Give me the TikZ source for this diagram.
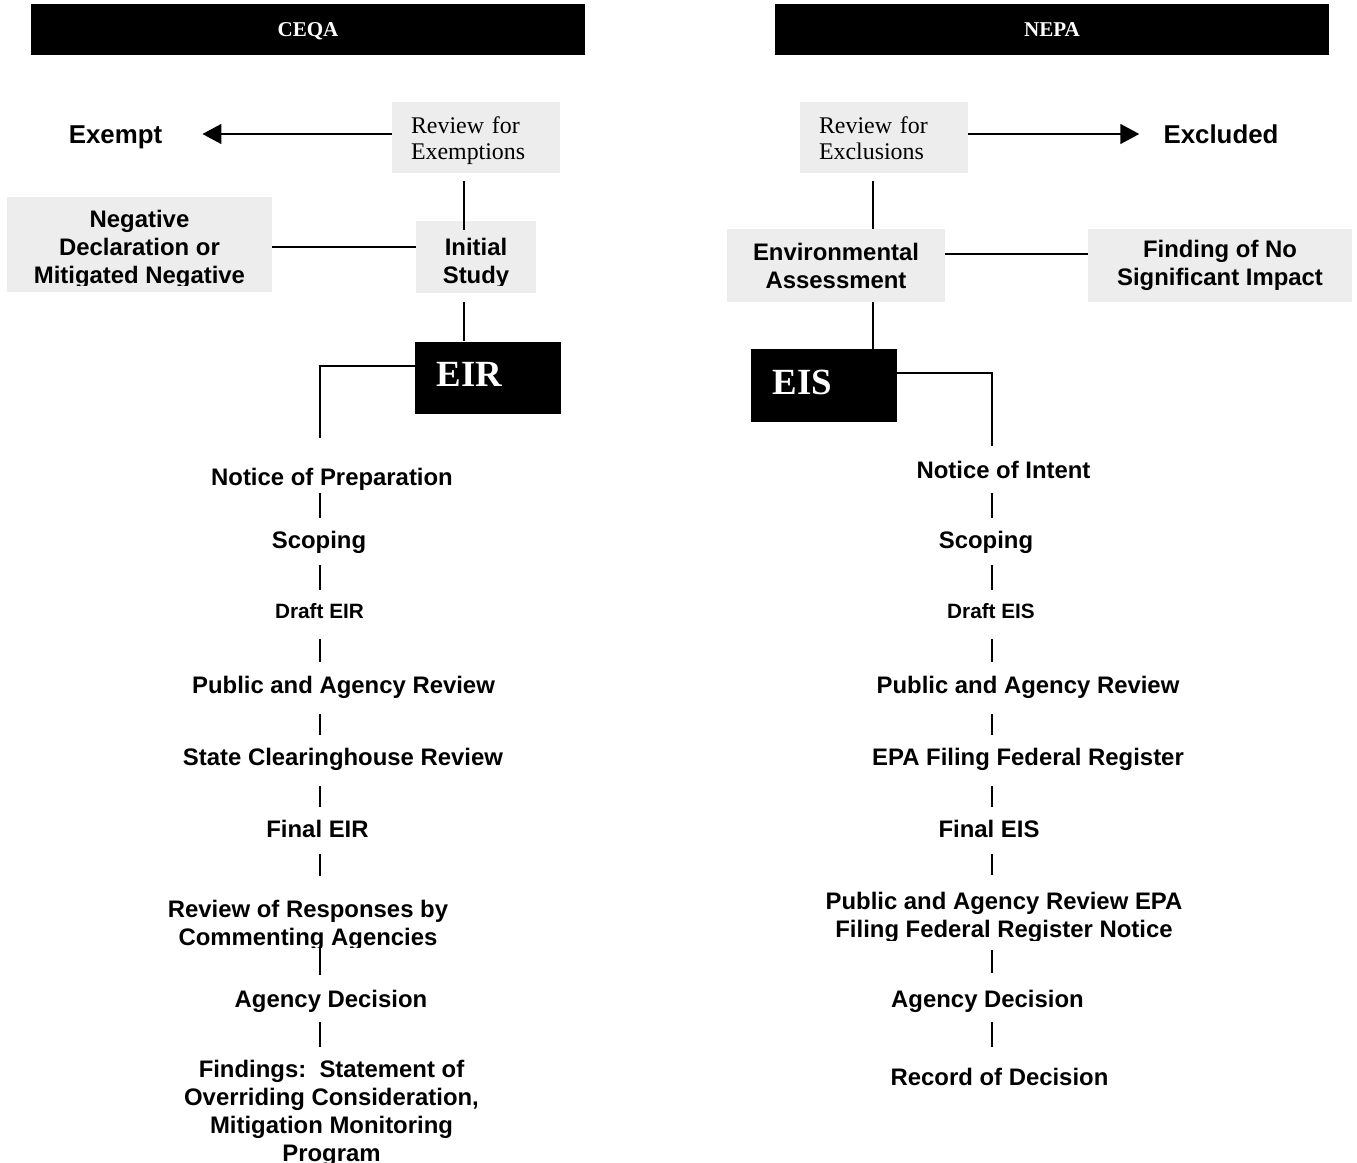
\documentclass[tikz,border=0pt]{standalone}
\usepackage{fontspec}
\setmainfont{Liberation Serif}
\setsansfont{Liberation Sans}
\usetikzlibrary{arrows.meta,positioning}

\definecolor{boxgray}{RGB}{237,237,237}

\begin{document}
\begin{tikzpicture}[
    x=0.02cm, y=-0.02cm,
    header/.style={rectangle, fill=black, minimum width=11.08cm, minimum height=1.02cm, inner sep=0pt, text=white, text height=7.9pt, text depth=0pt, font=\bfseries\fontsize{12}{14}\selectfont},
    graybox/.style={rectangle, fill=boxgray, inner sep=0pt},
    reviewbox/.style={graybox, minimum height=1.42cm, text width=2.6cm, inner xsep=0.38cm, inner ysep=0pt, text height=0.34cm, text depth=0.52cm, align=left, font=\fontsize{13.6}{15.3}\selectfont},
    docbox/.style={rectangle, fill=black, text=white, inner xsep=0.43cm, inner ysep=0pt, text width=2.06cm, text height=0.9cm, text depth=0.55cm, align=left, font=\bfseries\fontsize{21}{25}\selectfont},
    outcome/.style={inner sep=0pt, font=\sffamily\bfseries\fontsize{14.7}{17}\selectfont},
    boxtext/.style={inner sep=0pt, align=center, font=\sffamily\bfseries\fontsize{13.6}{15.9}\selectfont},
    stage/.style={inner sep=0pt, text height=0.36cm, text depth=0.12cm, font=\sffamily\bfseries\fontsize{13.6}{15.9}\selectfont},
    smallstage/.style={stage, font=\sffamily\bfseries\fontsize{11.8}{14}\selectfont},
    link/.style={draw, line width=1pt},
    arrowline/.style={link, -{Triangle[length=0.38cm, width=0.4cm]}}
]
\useasboundingbox (0,0) rectangle (1357,1163);

% Headers
\node[header] (ceqa) at (308,29.5) {CEQA};
\node[header] (nepa) at (1052,29.5) {NEPA};

% Screening
\node[reviewbox] (revex) at (476,137.5) {Review for\\Exemptions};
\node[reviewbox] (revcl) at (884,137.5) {Review for\\Exclusions};
\node[outcome, anchor=base] (exempt) at (115.5,143) {Exempt};
\node[outcome, anchor=base] (excl) at (1221,143) {Excluded};

% CEQA boxes
\node[graybox, minimum width=5.3cm, minimum height=1.9cm] (negdec) at (139.5,244.5) {};
\node[graybox, minimum width=2.4cm, minimum height=1.44cm] (init) at (476,257) {};
\begin{scope}
  \clip (7,197) rectangle (272,285);
  \node[boxtext, anchor=base] (negtxt) at (139.5,283) {Negative\\Declaration or\\Mitigated Negative};
\end{scope}
\begin{scope}
  \clip (416,221) rectangle (536,285);
  \node[boxtext, anchor=base] (inittxt) at (476,283) {Initial\\Study};
\end{scope}

% NEPA boxes
\node[graybox, boxtext, minimum width=4.36cm, minimum height=1.46cm] (ea) at (836,265.5) {Environmental\\Assessment};
\node[graybox, boxtext, minimum width=5.28cm, minimum height=1.46cm] (fonsi) at (1220,265.5) {Finding of No\\Significant Impact};

% Documents
\node[docbox] (eir) at (488,378) {EIR};
\node[docbox] (eis) at (824,385.5) {EIS};

% Trunks
\coordinate (ltrunk) at (464,247);
\coordinate (rtrunk) at (873,254);
\coordinate (lcol) at (320,0);
\coordinate (rcol) at (992,0);

% CEQA steps
\node[stage, anchor=base] (nop) at (332,485) {Notice of Preparation};
\node[stage, anchor=base] (scopl) at (319,548) {Scoping};
\node[smallstage, anchor=base] (drafl) at (319.5,618) {Draft EIR};
\node[stage, anchor=base] (publ) at (343.5,693) {Public and Agency Review};
\node[stage, anchor=base] (statel) at (343,765) {State Clearinghouse Review};
\node[stage, anchor=base] (finl) at (317.5,837) {Final EIR};
\begin{scope}
  \clip (100,880) rectangle (520,947);
  \node[boxtext, anchor=base] (resp) at (308,945) {Review of Responses by\\Commenting Agencies};
\end{scope}
\node[stage, anchor=base] (agl) at (331,1007) {Agency Decision};
\node[boxtext, anchor=base] (findl) at (331.5,1161) {Findings:\ \ Statement of\\Overriding Consideration,\\Mitigation Monitoring\\Program};

% NEPA steps
\node[stage, anchor=base] (noi) at (1003.5,478) {Notice of Intent};
\node[stage, anchor=base] (scopr) at (986,548) {Scoping};
\node[smallstage, anchor=base] (drafr) at (991,618) {Draft EIS};
\node[stage, anchor=base] (pubr) at (1028,693) {Public and Agency Review};
\node[stage, anchor=base] (epaf) at (1028,765) {EPA Filing Federal Register};
\node[stage, anchor=base] (finr) at (989,837) {Final EIS};
\begin{scope}
  \clip (780,870) rectangle (1240,940);
  \node[boxtext, anchor=base] (epan) at (1004,937) {Public and Agency Review EPA\\Filing Federal Register Notice};
\end{scope}
\node[stage, anchor=base] (agr) at (987.5,1007) {Agency Decision};
\node[stage, anchor=base] (rec) at (999.5,1085) {Record of Decision};

% Screening connectors
\draw[arrowline, shorten >=0.8cm] ([yshift=0.07cm]revex.west) -- ([yshift=0.07cm]revex.west -| exempt.east);
\draw[arrowline, shorten >=0.48cm] ([yshift=0.07cm]revcl.east) -- ([yshift=0.07cm]revcl.east -| excl.west);
\draw[link, shorten <=0.16cm, shorten >=-0.18cm] (revex.south -| ltrunk) -- (init.north -| ltrunk);
\draw[link, shorten <=0.18cm] (init.south -| ltrunk) -- (eir.north -| ltrunk);
\draw[link] (negdec.east |- ltrunk) -- (init.west |- ltrunk);
\draw[link, shorten <=0.16cm] (revcl.south -| rtrunk) -- (ea.north -| rtrunk);
\draw[link] (ea.south -| rtrunk) -- (eis.north -| rtrunk);
\draw[link] (ea.east |- rtrunk) -- (fonsi.west |- rtrunk);

% Step connectors
\draw[link, shorten >=0.58cm] ([yshift=0.24cm]eir.west) -| (nop.north -| lcol);
\draw[link, shorten >=0.28cm] ([yshift=0.25cm]eis.east) -| (noi.north -| rcol);
\foreach \a/\b/\sa/\sb in {nop/scopl/0.04/0.24, scopl/drafl/0.22/0.2, drafl/publ/0.3/0.26, publ/statel/0.3/0.24, statel/finl/0.3/0.24, finl/resp/0.22/0.46, resp/agl/-0.04/0.28, agl/findl/0.18/0.26}
  \draw[link, shorten <=\sa cm, shorten >=\sb cm] (\a.south -| lcol) -- (\b.north -| lcol);
\foreach \a/\b/\sa/\sb in {noi/scopr/0.18/0.24, scopr/drafr/0.22/0.2, drafr/pubr/0.3/0.26, pubr/epaf/0.3/0.24, epaf/finr/0.3/0.24, finr/epan/0.22/0.32, epan/agr/0.16/0.32, agr/rec/0.18/0.4}
  \draw[link, shorten <=\sa cm, shorten >=\sb cm] (\a.south -| rcol) -- (\b.north -| rcol);

\end{tikzpicture}
\end{document}
